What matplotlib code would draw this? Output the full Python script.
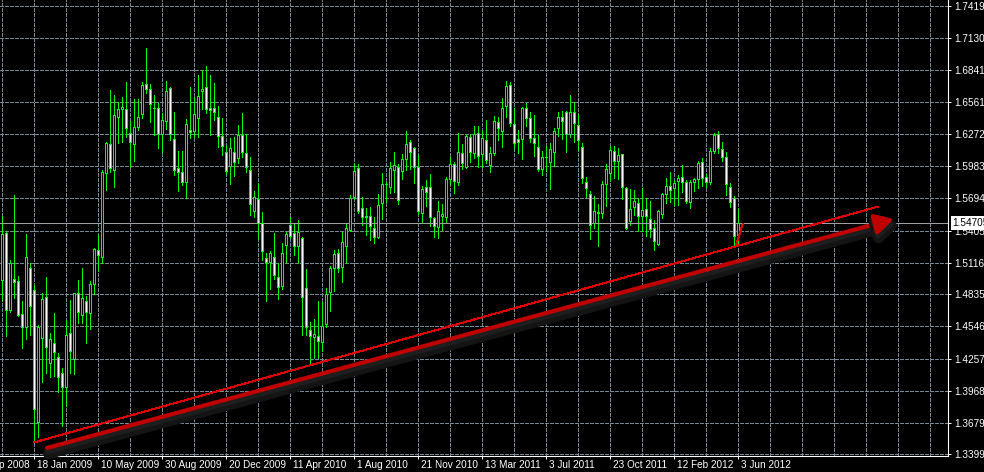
import matplotlib.pyplot as plt
import matplotlib.patheffects as pe
import matplotlib.transforms as mtransforms

# weekly GBP/USD candles, first one is the week of 23 Nov 2008
opens = [1.4962, 1.5384, 1.4693, 1.4971, 1.4953, 1.4657, 1.4540, 1.5069, 1.4872, 1.3689,
         1.4442, 1.4810, 1.4218, 1.4397, 1.4271, 1.4128, 1.4002, 1.4487, 1.4254, 1.4845,
         1.4648, 1.4774, 1.4666, 1.4926, 1.5231, 1.5168, 1.5922, 1.6182, 1.5948, 1.6424,
         1.6496, 1.6496, 1.6280, 1.6182, 1.6334, 1.6451, 1.6720, 1.6675, 1.6506, 1.6504,
         1.6271, 1.6388, 1.6684, 1.6227, 1.5966, 1.5931, 1.5841, 1.6307, 1.6298, 1.6415,
         1.6657, 1.6693, 1.6504, 1.6504, 1.6424, 1.6253, 1.6110, 1.5984, 1.6110, 1.6056,
         1.6262, 1.6101, 1.5948, 1.5581, 1.5688, 1.5473, 1.5159, 1.5123, 1.5168, 1.4989,
         1.4908, 1.5276, 1.5455, 1.5384, 1.5267, 1.5339, 1.4890, 1.4514, 1.4451, 1.4460,
         1.4406, 1.4567, 1.4854, 1.5069, 1.5204, 1.5078, 1.5267, 1.5410, 1.5706, 1.5966,
         1.5608, 1.5527, 1.5536, 1.5428, 1.5348, 1.5653, 1.5823, 1.5796, 1.5948, 1.5975,
         1.5940, 1.6047, 1.6200, 1.6146, 1.5975, 1.5563, 1.5796, 1.5796, 1.5518, 1.5437,
         1.5536, 1.5527, 1.5868, 1.6002, 1.5841, 1.6101, 1.5975, 1.6244, 1.6101, 1.6280,
         1.6092, 1.6218, 1.5993, 1.6101, 1.6379, 1.6298, 1.6522, 1.6711, 1.6361, 1.6227,
         1.6227, 1.6504, 1.6415, 1.6236, 1.6155, 1.5957, 1.6065, 1.6020, 1.6110, 1.6325,
         1.6424, 1.6469, 1.6271, 1.6469, 1.6352, 1.6155, 1.5841, 1.5733, 1.5473, 1.5572,
         1.5563, 1.5823, 1.5922, 1.6119, 1.6029, 1.6092, 1.5787, 1.5491, 1.5617, 1.5653,
         1.5536, 1.5599, 1.5509, 1.5428, 1.5285, 1.5554, 1.5733, 1.5805, 1.5787, 1.5850,
         1.5886, 1.5841, 1.5662, 1.5841, 1.5868, 1.6020, 1.5886, 1.5841, 1.6119, 1.6271,
         1.6137, 1.6065, 1.5796, 1.5697, 1.5366]
highs = [1.5536, 1.5401, 1.5141, 1.5724, 1.4998, 1.4774, 1.5375, 1.5114, 1.4917, 1.4558,
         1.4845, 1.4989, 1.4487, 1.4666, 1.4307, 1.4173, 1.4603, 1.4783, 1.4850, 1.4962,
         1.5069, 1.4819, 1.4953, 1.5249, 1.5366, 1.5948, 1.6200, 1.6666, 1.6621, 1.6558,
         1.6603, 1.6738, 1.6388, 1.6585, 1.6585, 1.6738, 1.7043, 1.6720, 1.6621, 1.6549,
         1.6460, 1.6747, 1.6693, 1.6469, 1.6119, 1.6119, 1.6406, 1.6693, 1.6603, 1.6800,
         1.6845, 1.6881, 1.6800, 1.6729, 1.6522, 1.6415, 1.6173, 1.6236, 1.6244, 1.6352,
         1.6460, 1.6271, 1.6065, 1.5760, 1.5832, 1.5572, 1.5204, 1.5222, 1.5384, 1.5114,
         1.5294, 1.5393, 1.5527, 1.5473, 1.5500, 1.5348, 1.5060, 1.4585, 1.4612, 1.4774,
         1.4765, 1.4890, 1.5087, 1.5231, 1.5240, 1.5393, 1.5473, 1.5724, 1.6011, 1.6002,
         1.5706, 1.5608, 1.5617, 1.5527, 1.5733, 1.5922, 1.5841, 1.6020, 1.6110, 1.6002,
         1.6092, 1.6298, 1.6218, 1.6155, 1.6083, 1.5805, 1.5859, 1.5913, 1.5527, 1.5670,
         1.5644, 1.5886, 1.6065, 1.6020, 1.6280, 1.6182, 1.6262, 1.6271, 1.6343, 1.6343,
         1.6307, 1.6397, 1.6155, 1.6433, 1.6424, 1.6594, 1.6747, 1.6738, 1.6504, 1.6307,
         1.6513, 1.6549, 1.6469, 1.6442, 1.6262, 1.6119, 1.6164, 1.6191, 1.6325, 1.6469,
         1.6478, 1.6478, 1.6621, 1.6558, 1.6451, 1.6191, 1.5886, 1.5760, 1.5715, 1.5644,
         1.5850, 1.6002, 1.6164, 1.6164, 1.6146, 1.6095, 1.5796, 1.5778, 1.5769, 1.5697,
         1.5787, 1.5697, 1.5670, 1.5500, 1.5590, 1.5742, 1.5877, 1.5931, 1.5859, 1.5904,
         1.5993, 1.5859, 1.5859, 1.5877, 1.6029, 1.6056, 1.5913, 1.6146, 1.6280, 1.6298,
         1.6200, 1.6110, 1.5832, 1.5715, 1.5599]
lows = [1.4783, 1.4460, 1.4675, 1.4801, 1.4639, 1.4352, 1.4433, 1.4469, 1.3509, 1.3554,
        1.4047, 1.4128, 1.4092, 1.4101, 1.3957, 1.3653, 1.3832, 1.4128, 1.4119, 1.4576,
        1.4576, 1.4397, 1.4523, 1.4836, 1.5052, 1.5114, 1.5769, 1.5931, 1.5796, 1.6191,
        1.6200, 1.6244, 1.5975, 1.6029, 1.6307, 1.6415, 1.6639, 1.6379, 1.6262, 1.6146,
        1.6110, 1.6316, 1.6218, 1.5904, 1.5760, 1.5814, 1.5697, 1.6236, 1.6244, 1.6244,
        1.6496, 1.6460, 1.6262, 1.6397, 1.6155, 1.6083, 1.5913, 1.5823, 1.5895, 1.6011,
        1.6065, 1.5931, 1.5545, 1.5527, 1.5339, 1.5141, 1.4774, 1.4881, 1.4971, 1.4792,
        1.4881, 1.5123, 1.5339, 1.5186, 1.5123, 1.4469, 1.4469, 1.4218, 1.4263, 1.4263,
        1.4325, 1.4540, 1.4684, 1.4863, 1.5034, 1.4944, 1.5123, 1.5401, 1.5688, 1.5563,
        1.5455, 1.5366, 1.5321, 1.5294, 1.5339, 1.5509, 1.5662, 1.5742, 1.5751, 1.5644,
        1.5868, 1.5948, 1.5957, 1.5832, 1.5554, 1.5473, 1.5626, 1.5446, 1.5348, 1.5339,
        1.5410, 1.5473, 1.5823, 1.5742, 1.5814, 1.5957, 1.5966, 1.6020, 1.6056, 1.5975,
        1.5975, 1.6011, 1.5931, 1.6083, 1.6218, 1.6155, 1.6424, 1.6343, 1.6146, 1.6101,
        1.6047, 1.6343, 1.6200, 1.6074, 1.5940, 1.5904, 1.5940, 1.5778, 1.5984, 1.6253,
        1.6227, 1.6110, 1.6244, 1.6200, 1.6128, 1.5832, 1.5706, 1.5330, 1.5428, 1.5267,
        1.5518, 1.5626, 1.5850, 1.5877, 1.5868, 1.5688, 1.5419, 1.5455, 1.5545, 1.5401,
        1.5401, 1.5357, 1.5348, 1.5231, 1.5276, 1.5518, 1.5653, 1.5662, 1.5635, 1.5635,
        1.5751, 1.5653, 1.5608, 1.5760, 1.5787, 1.5805, 1.5796, 1.5823, 1.6101, 1.6101,
        1.6029, 1.5724, 1.5617, 1.5276, 1.5294]
closes = [1.5375, 1.4693, 1.5114, 1.4944, 1.4648, 1.4540, 1.5168, 1.4729, 1.3805, 1.4540,
          1.4792, 1.4361, 1.4433, 1.4316, 1.4092, 1.4002, 1.4469, 1.4325, 1.4845, 1.4675,
          1.4801, 1.4675, 1.4926, 1.5240, 1.5186, 1.5931, 1.6191, 1.5966, 1.6442, 1.6496,
          1.6513, 1.6325, 1.6200, 1.6334, 1.6424, 1.6711, 1.6675, 1.6540, 1.6502, 1.6271,
          1.6397, 1.6657, 1.6271, 1.5948, 1.5931, 1.5841, 1.6361, 1.6289, 1.6451, 1.6612,
          1.6675, 1.6496, 1.6487, 1.6469, 1.6253, 1.6164, 1.5940, 1.6146, 1.6020, 1.6262,
          1.6110, 1.5975, 1.5644, 1.5706, 1.5473, 1.5222, 1.5123, 1.5204, 1.5007, 1.4899,
          1.5204, 1.5375, 1.5357, 1.5267, 1.5393, 1.4810, 1.4540, 1.4460, 1.4478, 1.4415,
          1.4549, 1.4836, 1.5069, 1.5195, 1.5069, 1.5303, 1.5428, 1.5697, 1.5940, 1.5581,
          1.5527, 1.5536, 1.5446, 1.5348, 1.5635, 1.5823, 1.5826, 1.5966, 1.5993, 1.5679,
          1.6047, 1.6182, 1.6110, 1.5975, 1.5581, 1.5778, 1.5751, 1.5527, 1.5446, 1.5581,
          1.5554, 1.5868, 1.6002, 1.5850, 1.6110, 1.6011, 1.6253, 1.6110, 1.6271, 1.6074,
          1.6236, 1.6038, 1.6101, 1.6388, 1.6325, 1.6504, 1.6702, 1.6370, 1.6191, 1.6200,
          1.6504, 1.6415, 1.6236, 1.6191, 1.5957, 1.6065, 1.6068, 1.6137, 1.6298, 1.6424,
          1.6388, 1.6271, 1.6469, 1.6370, 1.6218, 1.5877, 1.5787, 1.5455, 1.5581, 1.5563,
          1.5823, 1.5957, 1.6128, 1.6029, 1.6083, 1.5796, 1.5428, 1.5599, 1.5670, 1.5536,
          1.5590, 1.5536, 1.5419, 1.5312, 1.5581, 1.5733, 1.5805, 1.5769, 1.5832, 1.5877,
          1.5841, 1.5670, 1.5841, 1.5868, 1.6011, 1.5877, 1.5841, 1.6119, 1.6262, 1.6146,
          1.6065, 1.5823, 1.5662, 1.5357, 1.5471]

date_labels = ['28 Sep 2008', '18 Jan 2009', '10 May 2009', '30 Aug 2009', '20 Dec 2009',
               '11 Apr 2010', '1 Aug 2010', '21 Nov 2010', '13 Mar 2011', '3 Jul 2011',
               '23 Oct 2011', '12 Feb 2012', '3 Jun 2012']
date_pos = [-8, 8, 24, 40, 56, 72, 88, 104, 120, 136, 152, 168, 184]
price_ticks = [1.74195, 1.71305, 1.68415, 1.65610, 1.62720, 1.59830, 1.56940, 1.54050,
               1.51160, 1.48355, 1.45465, 1.42575, 1.39685, 1.36795, 1.33990]
last_price = 1.54705

# hand drawn objects (bar index, price)
trend_line = [(8.0, 1.3506), (218.8, 1.5619)]
small_line = [(183.4, 1.5267), (185.1, 1.5464)]
arrow_from = (11.2, 1.3456)
arrow_to = (222.9, 1.5509)

plt.rcParams['font.family'] = ['Liberation Sans', 'DejaVu Sans']
GREEN = '#00ff00'
GRID = '#778899'

fig = plt.figure(figsize=(9.84, 4.72), dpi=100, facecolor='black')
ax = fig.add_axes([0, 16.5 / 472, 947.5 / 984, 455.5 / 472], facecolor='black')
ax.set_xlim(-0.575, 236.3)
ax.set_ylim(1.33882, 1.74733)

# grid
for p in price_ticks:
    ax.axhline(p, color=GRID, lw=0.72, ls=(0, (3, 2)), antialiased=False, zorder=1)
for i in range(0, 236, 8):
    ax.axvline(i, color=GRID, lw=0.72, ls=(0, (3, 2)), antialiased=False, zorder=1)

# candles
x = list(range(len(closes)))
ax.vlines(x, lows, highs, color=GREEN, lw=0.72, antialiased=False, zorder=2)
fills = ['white' if c < o else 'black' for o, c in zip(opens, closes)]
heights = [c - o for o, c in zip(opens, closes)]
ax.bar(x, heights, bottom=opens, width=0.5, color=fills, edgecolor=GREEN,
       linewidth=0.72, antialiased=False, zorder=3)

# last price line
ax.axhline(last_price, color='#a0a0a0', lw=0.72, antialiased=False, zorder=2)

# trend line + arrow
ax.plot(*zip(*trend_line), color='#e00000', lw=0.72, antialiased=False, zorder=4)
ax.plot(*zip(*small_line), color='#e00000', lw=0.72, antialiased=False, zorder=4)
ax.annotate('', xy=arrow_to, xytext=arrow_from,
            arrowprops=dict(arrowstyle='-|>,head_length=1.1,head_width=0.6',
                            color='#c00000', lw=3, shrinkA=0, shrinkB=0,
                            mutation_scale=10,
                            path_effects=[pe.SimpleLineShadow(offset=(1, -4), shadow_color='#141414',
                                                              alpha=1, linewidth=8),
                                          pe.SimpleLineShadow(offset=(0.5, -2.5), shadow_color='#1e1e1e',
                                                              alpha=1, linewidth=4),
                                          pe.Normal()]),
            zorder=5)

# axes
for s in ['top', 'left']:
    ax.spines[s].set_visible(False)
for s in ['right', 'bottom']:
    ax.spines[s].set_color('white')
    ax.spines[s].set_linewidth(0.8)

ax.yaxis.tick_right()
ax.set_yticks(price_ticks, labels=['%.5f' % p for p in price_ticks])
ax.tick_params(axis='y', colors='white', length=2.5, width=0.72, pad=2.5, labelsize=7.2)
ax.set_xticks(date_pos[1:], labels=[''] * (len(date_pos) - 1))
ax.tick_params(axis='x', colors='white', length=2.5, width=0.72)

offs = mtransforms.ScaledTranslation(0.025, -0.04, fig.dpi_scale_trans)
trans = mtransforms.blended_transform_factory(ax.transData, ax.transAxes) + offs
for pos, lab in zip(date_pos, date_labels):
    ax.text(pos, 0, lab, transform=trans, ha='left', va='top', color='white',
            fontsize=7.2, clip_on=False)

# price label box
ptrans = mtransforms.blended_transform_factory(ax.transAxes, ax.transData) + \
    mtransforms.ScaledTranslation(0.05, 0, fig.dpi_scale_trans)
ax.text(1.0, last_price, '%.5f' % last_price, transform=ptrans, ha='left', va='center',
        color='black', fontsize=7.2, clip_on=False, zorder=10,
        bbox=dict(boxstyle='square,pad=0.2', fc='white', ec='none'))

fig.savefig('out.png', dpi=100, facecolor='black')
